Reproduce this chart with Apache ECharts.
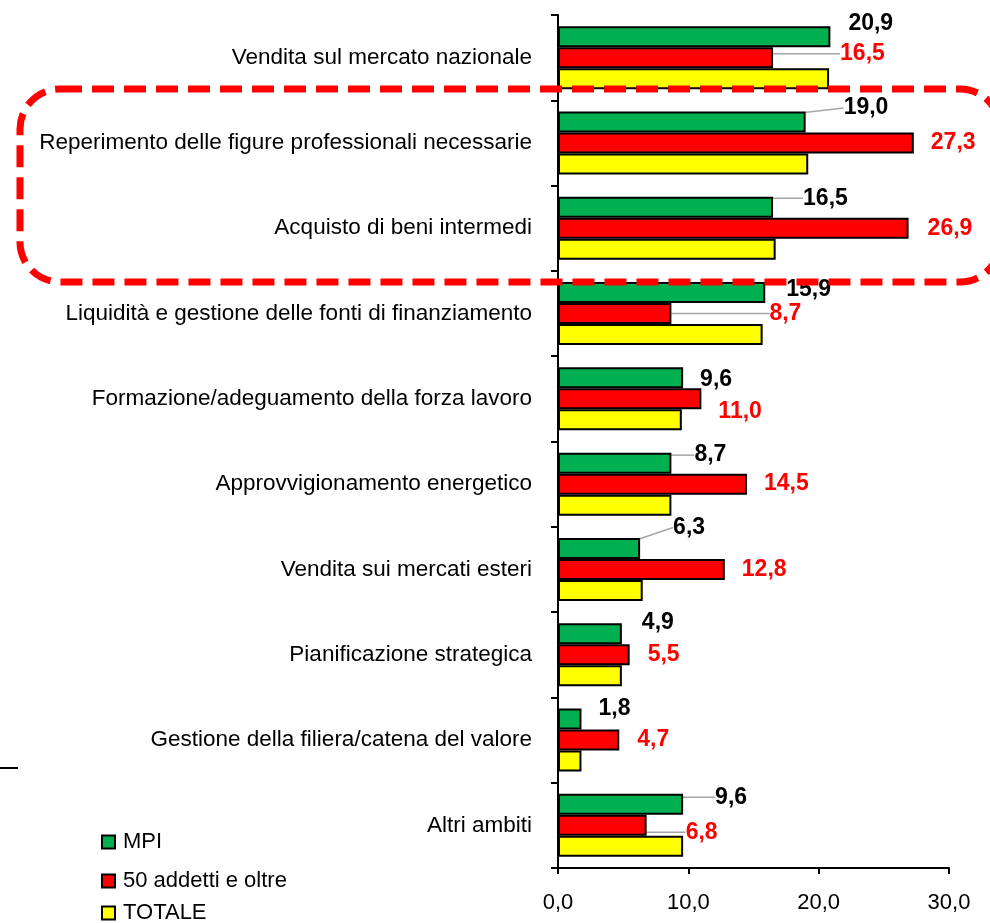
<!DOCTYPE html>
<html>
<head>
<meta charset="utf-8">
<script src="https://cdn.jsdelivr.net/npm/echarts@6/dist/echarts.min.js"></script>
<style>
html, body { margin: 0; padding: 0; background: #fff; }
#main { width: 990px; height: 923px; }
</style>
</head>
<body>
<div id="main"></div>
<script>
// ambiti, dall'alto verso il basso
var categorie = [
	'Vendita sul mercato nazionale',
	'Reperimento delle figure professionali necessarie',
	'Acquisto di beni intermedi',
	'Liquidità e gestione delle fonti di finanziamento',
	'Formazione/adeguamento della forza lavoro',
	'Approvvigionamento energetico',
	'Vendita sui mercati esteri',
	'Pianificazione strategica',
	'Gestione della filiera/catena del valore',
	'Altri ambiti'
];
var mpi = [20.9, 19.0, 16.5, 15.9, 9.6, 8.7, 6.3, 4.9, 1.8, 9.6];
var oltre50 = [16.5, 27.3, 26.9, 8.7, 11.0, 14.5, 12.8, 5.5, 4.7, 6.8];
var totale = [20.8, 19.2, 16.7, 15.7, 9.5, 8.7, 6.5, 4.9, 1.8, 9.6];
var xTicks = [0, 10, 20, 30];

// spostamento etichette (come trascinate a mano nell'originale)
var mpiShift = [[18,-13],[38,-14],[30,-9],[21,-3],[17,2],[23,-8],[33,-21],[20,-11],[17,-10],[32,-7]];
var oltreShift = [[67,-4],[17,0],[19,0],[98,0],[17,13],[17,0],[17,0],[18,0],[18,0],[39,7]];
var mpiLinee = [1, 2, 5, 6, 9];
var oltreLinee = [0, 3, 9];

var FONT = '"Liberation Sans", Arial, sans-serif';

function virgola(v) {
	return v.toFixed(1).replace('.', ',');
}

function conLinee(valori, linee) {
	return valori.map(function(v, i) {
		return { value: v, labelLine: { show: linee.indexOf(i) >= 0 } };
	});
}

var myChart = echarts.init(document.getElementById('main'));
var option = {
	animation: false,
	backgroundColor: '#fff',
	textStyle: { fontFamily: FONT },
	grid: { left: 558, right: 41, top: 15, bottom: 55, outerBoundsMode: 'none', containLabel: false },
	legend: [
		{ data: ['MPI'], left: 101, top: 831 },
		{ data: ['50 addetti e oltre'], left: 101, top: 870 },
		{ data: ['TOTALE'], left: 101, top: 902 }
	].map(function(l) {
		l.orient = 'vertical';
		l.icon = 'rect';
		l.itemWidth = 13;
		l.itemHeight = 13;
		l.padding = 0;
		l.textStyle = { fontFamily: FONT, fontSize: 22, color: '#000', padding: [0, 0, 0, 3] };
		return l;
	}),
	xAxis: {
		type: 'value',
		min: xTicks[0],
		max: xTicks[xTicks.length - 1],
		interval: 10,
		splitLine: { show: false },
		axisLine: { show: true, lineStyle: { color: '#000', width: 2 } },
		axisTick: { show: true, length: 6, inside: false, lineStyle: { color: '#000', width: 2 } },
		axisLabel: {
			margin: 24,
			fontFamily: FONT,
			fontSize: 22,
			color: '#000',
			formatter: function(v) { return virgola(v); }
		}
	},
	yAxis: {
		type: 'category',
		inverse: true,
		data: categorie,
		axisLine: { show: true, lineStyle: { color: '#000', width: 2 } },
		axisTick: { show: true, length: 7, lineStyle: { color: '#000', width: 2 } },
		axisLabel: { margin: 26, fontFamily: FONT, fontSize: 22.5, color: '#000' }
	},
	series: [
		{
			name: 'MPI',
			type: 'bar',
			data: conLinee(mpi, mpiLinee),
			barWidth: 21,
			barGap: '0%',
			itemStyle: { color: '#00B050', borderColor: '#000', borderWidth: 2 },
			label: {
				show: true,
				position: 'right',
				distance: 0,
				fontFamily: FONT,
				fontSize: 23,
				fontWeight: 'bold',
				color: '#000',
				formatter: function(p) { return virgola(p.value); }
			},
			labelLine: { show: false, lineStyle: { color: '#A6A6A6', width: 1.5 } },
			labelLayout: function(p) {
				return { dx: mpiShift[p.dataIndex][0], dy: mpiShift[p.dataIndex][1] };
			}
		},
		{
			name: '50 addetti e oltre',
			type: 'bar',
			data: conLinee(oltre50, oltreLinee),
			barWidth: 21,
			barGap: '0%',
			itemStyle: { color: '#FF0000', borderColor: '#000', borderWidth: 2 },
			label: {
				show: true,
				position: 'right',
				distance: 0,
				fontFamily: FONT,
				fontSize: 23,
				fontWeight: 'bold',
				color: '#FF0000',
				formatter: function(p) { return virgola(p.value); }
			},
			labelLine: { show: false, lineStyle: { color: '#A6A6A6', width: 1.5 } },
			labelLayout: function(p) {
				return { dx: oltreShift[p.dataIndex][0], dy: oltreShift[p.dataIndex][1] };
			}
		},
		{
			name: 'TOTALE',
			type: 'bar',
			data: totale,
			barWidth: 21,
			barGap: '0%',
			itemStyle: { color: '#FFFF00', borderColor: '#000', borderWidth: 2 }
		}
	],
	graphic: [
		// riquadro tratteggiato rosso
		{
			type: 'rect',
			z: 100,
			shape: { x: 20, y: 89, width: 980, height: 193, r: 40 },
			style: { fill: null, stroke: '#FF0000', lineWidth: 7, lineDash: [22, 10] }
		},
		{
			type: 'line',
			z: 100,
			shape: { x1: 0, y1: 768, x2: 18, y2: 768 },
			style: { stroke: '#000', lineWidth: 2 }
		}
	]
};
myChart.setOption(option);
</script>
</body>
</html>
